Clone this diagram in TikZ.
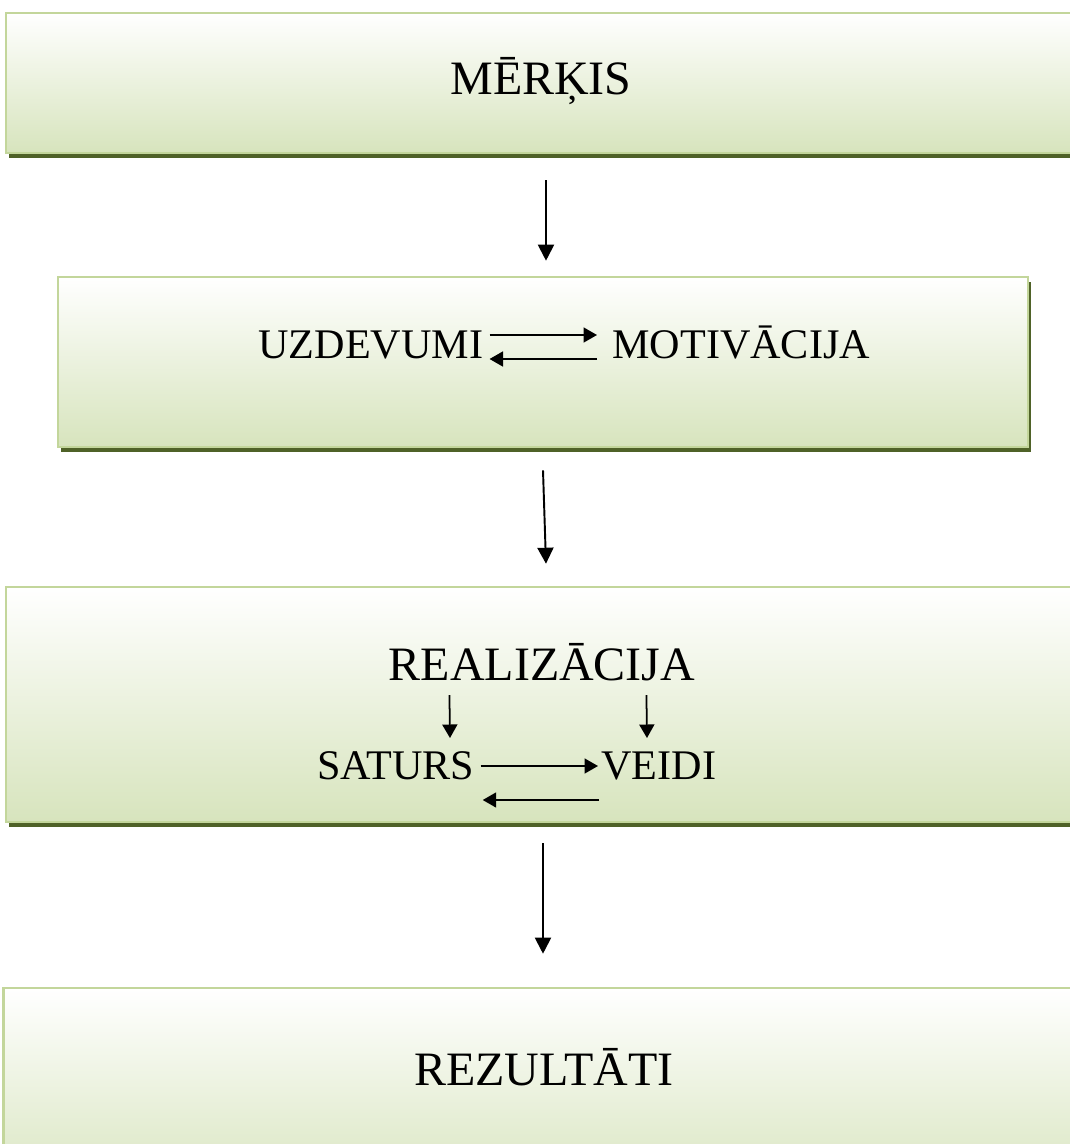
\documentclass[tikz,border=0pt]{standalone}
\usepackage{fontspec}
\setmainfont{Liberation Serif}
\usetikzlibrary{calc,arrows.meta,shadows}

\definecolor{panelline}{HTML}{C3D69B}
\definecolor{panelfill}{HTML}{D7E4BD}
\definecolor{panelshadow}{HTML}{4F6228}

\tikzset{
  panel/.style={draw=panelline, line width=1.5pt, top color=white, bottom color=panelfill,
    drop shadow={shadow xshift=0.06cm, shadow yshift=-0.1cm, fill=panelshadow, opacity=1}},
  bigword/.style={inner sep=0pt, font=\fontsize{27.3}{30}\selectfont},
  smallword/.style={inner sep=0pt, font=\fontsize{24}{28}\selectfont},
  flow/.style={-{Triangle[width=0.32cm,length=0.32cm]}, line width=1.1pt},
  link/.style={-{Triangle[width=0.3cm,length=0.27cm]}, line width=1pt}
}

\begin{document}
\begin{tikzpicture}[x=0.02cm,y=-0.02cm]
  \useasboundingbox (0,0) rectangle (1070,1144);

  % panels
  \foreach \name/\x/\y/\w/\h in {goalbox/546/83/21.6/2.8, taskbox/543/362/19.4/3.4,
      realbox/546/704.5/21.6/4.7, resultbox/546/1094/21.7/4.24} {
    \node[panel, minimum width=\w cm, minimum height=\h cm] (\name) at (\x,\y) {};
  }

  \node[bigword, anchor=base] (goal) at (541,94) {MĒRĶIS};
  \node[smallword, anchor=base west] (tasks) at (258,358) {UZDEVUMI};
  \node[smallword, anchor=base west] (motiv) at (612,358) {MOTIVĀCIJA};
  \node[bigword, anchor=base] (real) at (542,680) {REALIZĀCIJA};
  \node[smallword, anchor=base west] (content) at (317,779) {SATURS};
  \node[smallword, anchor=base west] (kinds) at (601,779) {VEIDI};
  \node[bigword, anchor=base] (result) at (544,1085) {REZULTĀTI};

  % between panels
  \draw[flow] ($(goalbox.south)+(0,26)$) -- ($(taskbox.north)+(3,-15)$);
  \draw[flow] ($(taskbox.south)+(0,22)$) -- ($(realbox.north)+(0,-22)$);
  \draw[flow] ($(realbox.south)+(-3,20)$) -- ($(resultbox.north)+(-3,-33)$);

  % inside panels
  \draw[link] ($(tasks.base east)+(6,-23)$) -- ($(motiv.base west)+(-15,-23)$);
  \draw[link] ($(motiv.base west)+(-15,1)$) -- ($(tasks.base east)+(6,1)$);
  \draw[link] ($(real.base west)+(61,15)$) -- ($(content.base west)+(133,-41)$);
  \draw[link] ($(real.base west)+(258,15)$) -- ($(kinds.base west)+(46,-41)$);
  \draw[link] ($(content.base east)+(6,-13)$) -- ($(kinds.base west)+(-3,-13)$);
  \draw[link] ($(kinds.base west)+(-2,21)$) -- ($(content.base east)+(8,21)$);
\end{tikzpicture}
\end{document}
